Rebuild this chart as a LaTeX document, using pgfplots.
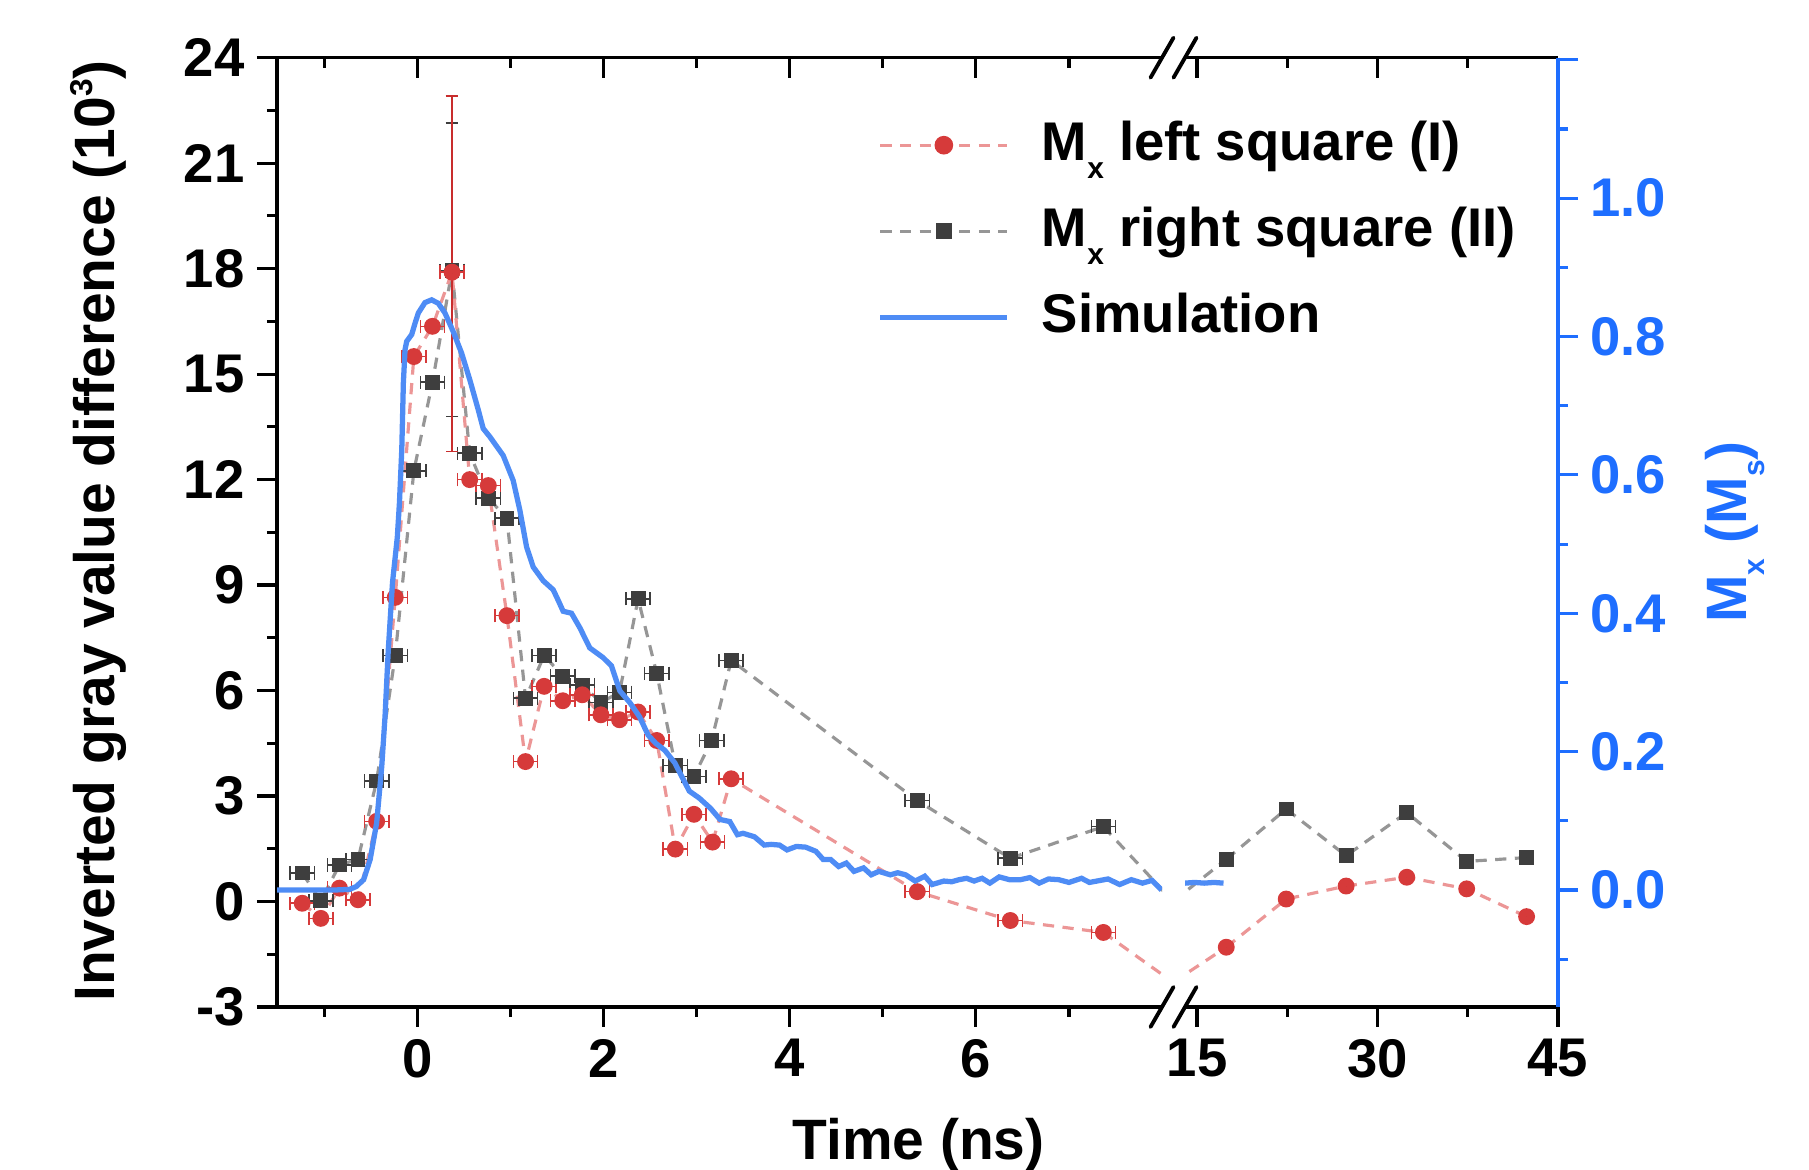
\documentclass[border=0pt]{standalone}
\usepackage{fontspec}
\setmainfont{Liberation Sans}
\usepackage{pgfplots}
\usepackage{pgfplotstable}
\usetikzlibrary{calc}
\pgfplotsset{compat=1.18}

\definecolor{mred}{RGB}{214,58,58}
\definecolor{mredline}{RGB}{236,150,150}
\definecolor{mredbar}{RGB}{200,45,45}
\definecolor{mgray}{RGB}{62,62,62}
\definecolor{mgrayline}{RGB}{150,150,150}
\definecolor{simblue}{RGB}{78,140,245}
\definecolor{axblue}{RGB}{30,110,255}

\newcommand{\tickfont}{\fontsize{15.5}{18}\selectfont\bfseries}
\newcommand{\labfont}{\fontsize{16.2}{19}\selectfont\bfseries}
\newcommand{\sub}[1]{\raisebox{-0.18cm}{\fontsize{8.5}{9}\selectfont #1}}

% left segment, inverted gray value (10^3), x error in ns
\pgfplotstableread{
t v ex
-1.24 -0.05 0.13
-1.04 -0.48 0.13
-0.84 0.38 0.13
-0.64 0.05 0.13
-0.44 2.28 0.13
-0.24 8.65 0.13
-0.04 15.50 0.13
0.16 16.36 0.13
0.37 17.90 0.13
0.56 12.00 0.13
0.76 11.83 0.13
0.96 8.13 0.13
1.16 3.98 0.13
1.36 6.12 0.13
1.56 5.71 0.13
1.77 5.88 0.13
1.97 5.31 0.13
2.17 5.17 0.13
2.37 5.39 0.13
2.57 4.58 0.13
2.77 1.49 0.13
2.97 2.48 0.13
3.17 1.69 0.13
3.37 3.49 0.13
5.37 0.28 0.13
6.37 -0.54 0.13
7.37 -0.88 0.13
}\redleft

\pgfplotstableread{
t v ex
-1.24 0.81 0.13
-1.04 0.02 0.13
-0.84 1.04 0.13
-0.64 1.20 0.13
-0.44 3.43 0.13
-0.24 7.00 0.13
-0.04 12.25 0.13
0.16 14.77 0.13
0.37 17.95 0.13
0.56 12.75 0.13
0.76 11.47 0.13
0.96 10.90 0.13
1.16 5.78 0.13
1.36 7.00 0.13
1.56 6.41 0.13
1.77 6.16 0.13
1.97 5.66 0.13
2.17 5.95 0.13
2.37 8.61 0.13
2.57 6.49 0.13
2.77 3.87 0.13
2.97 3.56 0.13
3.16 4.58 0.13
3.37 6.86 0.13
5.37 2.87 0.13
6.37 1.23 0.13
7.37 2.13 0.13
}\grayleft

% right segment
\pgfplotstableread{
t v ex ey
17.43 -1.30 0.4 0.14
22.41 0.07 0.4 0.14
27.39 0.44 0.4 0.14
32.43 0.69 0.4 0.14
37.41 0.36 0.4 0.14
42.39 -0.43 0.4 0.14
}\redright

\pgfplotstableread{
t v ex ey
17.43 1.20 0.4 0.14
22.41 2.63 0.4 0.14
27.39 1.30 0.4 0.14
32.43 2.53 0.4 0.14
37.41 1.14 0.4 0.14
42.39 1.25 0.4 0.14
}\grayright

% simulation, M_x in M_s
\pgfplotstableread{
t m
-1.511 0.000
-0.90 0.000
-0.73 0.001
-0.66 0.005
-0.58 0.015
-0.51 0.044
-0.44 0.097
-0.385 0.179
-0.35 0.251
-0.315 0.347
-0.27 0.444
-0.218 0.510
-0.195 0.560
-0.17 0.637
-0.153 0.733
-0.135 0.781
-0.117 0.793
-0.063 0.803
-0.028 0.819
0.008 0.834
0.079 0.849
0.151 0.853
0.222 0.848
0.294 0.834
0.383 0.807
0.473 0.776
0.562 0.737
0.652 0.694
0.705 0.667
0.777 0.655
0.920 0.628
1.027 0.592
1.099 0.549
1.171 0.496
1.242 0.467
1.350 0.447
1.457 0.434
1.510 0.419
1.564 0.403
1.654 0.400
1.744 0.379
1.850 0.350
1.993 0.336
2.083 0.324
2.173 0.288
2.280 0.271
2.387 0.250
2.477 0.224
2.560 0.212
2.656 0.202
2.763 0.184
2.920 0.143
3.026 0.133
3.149 0.118
3.250 0.102
3.355 0.099
3.437 0.080
3.498 0.082
3.620 0.077
3.725 0.065
3.800 0.066
3.889 0.065
3.970 0.058
4.070 0.063
4.170 0.062
4.280 0.056
4.360 0.044
4.440 0.044
4.525 0.034
4.607 0.039
4.690 0.027
4.793 0.032
4.875 0.022
4.957 0.027
5.080 0.022
5.160 0.025
5.245 0.022
5.347 0.013
5.450 0.020
5.530 0.008
5.655 0.013
5.740 0.012
5.820 0.015
5.900 0.017
5.980 0.013
6.066 0.017
6.150 0.010
6.250 0.019
6.360 0.015
6.480 0.015
6.580 0.018
6.680 0.010
6.780 0.016
6.890 0.015
7.000 0.011
7.135 0.017
7.220 0.011
7.300 0.013
7.420 0.016
7.545 0.008
7.670 0.015
7.790 0.010
7.893 0.014
7.996 0.000
}\simleft

\pgfplotstableread{
t m
14.0 0.010
14.8 0.011
15.6 0.010
16.4 0.011
17.2 0.010
}\simright

\pgfplotsset{
  brk/.style={scale only axis, anchor=south west, height=9.493cm,
    tick label style={font=\tickfont},
    major tick length=0.2cm, minor tick length=0.1cm,
    tick style={line width=0.9pt, black},
    axis line style={line width=1pt}},
  dash/.style={line width=0.9pt, dash pattern=on 3.2pt off 2.4pt},
  dline/.style={dash, no marks},
  redmk/.style={only marks, mark=*, mark size=2.2pt, mark options={solid, fill=mred, draw=mred}},
  graymk/.style={only marks, mark=square*, mark size=1.9pt, mark options={solid, fill=mgray, draw=mgray}},
  barsonly/.style={only marks, mark=*, mark size=0pt, mark options={draw=none, fill=none}},
  sim/.style={simblue, line width=1.5pt, no marks},
}

\begin{document}
\begin{tikzpicture}
\useasboundingbox (0,0) rectangle (18.09,11.70);

% left segment: data
\begin{axis}[brk, name=L, at={(2.77cm,1.63cm)}, width=8.85cm,
  xmin=-1.511, xmax=8.0, ymin=-3, ymax=24,
  axis x line*=bottom, axis y line*=left, tick align=outside,
  xtick={0,2,4,6}, xticklabels={0,2,4,6}, minor xtick={-1,1,3,5,7},
  ytick={-3,0,3,6,9,12,15,18,21,24}, yticklabels={-3,0,3,6,9,12,15,18,21,24},
  minor ytick={-1.5,1.5,4.5,7.5,10.5,13.5,16.5,19.5,22.5}]
\addplot[dline, mgrayline] table[x=t, y=v] {\grayleft};
\addplot[dline, mgrayline] coordinates {(7.37,2.13) (8.12,0.0)};
\addplot[dline, mredline] table[x=t, y=v] {\redleft};
\addplot[dline, mredline] coordinates {(7.37,-0.88) (8.12,-2.3)};
\addplot[graymk, error bars/.cd, x dir=both, x explicit,
  error bar style={line width=0.45pt, mgray},
  error mark options={rotate=90, mark size=1.9pt, line width=0.45pt, mgray}]
  table[x=t, y=v, x error=ex] {\grayleft};
\addplot[redmk, error bars/.cd, x dir=both, x explicit,
  error bar style={line width=0.45pt, mred},
  error mark options={rotate=90, mark size=1.9pt, line width=0.45pt, mred}]
  table[x=t, y=v, x error=ex] {\redleft};
\addplot[barsonly, error bars/.cd, y dir=both, y explicit,
  error bar style={line width=0.45pt, mgray},
  error mark options={rotate=90, mark size=1.8pt, line width=0.45pt, mgray}]
  coordinates {(0.37,17.97) +- (0,4.17)};
\addplot[barsonly, error bars/.cd, y dir=both, y explicit,
  error bar style={line width=0.5pt, mredbar},
  error mark options={rotate=90, mark size=1.8pt, line width=0.5pt, mredbar}]
  coordinates {(0.37,17.85) +- (0,5.05)};
\end{axis}

% left segment: simulation and top axis
\begin{axis}[brk, name=LT, at={(2.77cm,1.63cm)}, width=8.85cm,
  xmin=-1.511, xmax=8.0, ymin=-0.169, ymax=1.203,
  axis x line*=top, hide y axis, tick align=inside,
  xtick={0,2,4,6}, xticklabels={}, minor xtick={-1,1,3,5,7}]
\addplot[sim] table[x=t, y=m] {\simleft};
\end{axis}

% right segment: data
\begin{axis}[brk, name=R, at={(11.85cm,1.63cm)}, width=3.73cm,
  xmin=14, xmax=45, ymin=-3, ymax=24,
  axis x line*=bottom, hide y axis, tick align=outside,
  xtick={15,30,45}, xticklabels={15,30,45}, minor xtick={22.5,37.5}]
\addplot[dline, mgrayline] table[x=t, y=v] {\grayright};
\addplot[dline, mgrayline] coordinates {(13.0,0.0) (17.43,1.20)};
\addplot[dline, mredline] table[x=t, y=v] {\redright};
\addplot[dline, mredline] coordinates {(13.0,-2.3) (17.43,-1.30)};
\addplot[graymk] table[x=t, y=v] {\grayright};
\addplot[redmk] table[x=t, y=v] {\redright};
\addplot[barsonly, error bars/.cd, x dir=both, x explicit, y dir=both, y explicit,
  error bar style={line width=0.4pt, black!85},
  error mark options={rotate=90, mark size=1.2pt, line width=0.4pt, black!85}]
  table[x=t, y=v, x error=ex, y error=ey] {\grayright};
\addplot[barsonly, error bars/.cd, x dir=both, x explicit, y dir=both, y explicit,
  error bar style={line width=0.4pt, mredbar},
  error mark options={rotate=90, mark size=1.2pt, line width=0.4pt, mredbar}]
  table[x=t, y=v, x error=ex, y error=ey] {\redright};
\end{axis}

% right segment: top axis
\begin{axis}[brk, name=RT, at={(11.85cm,1.63cm)}, width=3.73cm,
  xmin=14, xmax=45, ymin=-0.169, ymax=1.203,
  axis x line*=top, hide y axis, tick align=inside,
  xtick={15,30,45}, xticklabels={}, minor xtick={22.5,37.5}]
\end{axis}

% right segment: simulation, blue axis, legend
\begin{axis}[brk, name=RY, at={(11.85cm,1.63cm)}, width=3.73cm,
  xmin=14, xmax=45, ymin=-0.169, ymax=1.203,
  axis y line*=right, hide x axis, tick align=outside,
  ytick={0,0.2,0.4,0.6,0.8,1.0,1.2}, yticklabels={0.0,0.2,0.4,0.6,0.8,1.0,{}},
  minor ytick={-0.1,0.1,0.3,0.5,0.7,0.9,1.1},
  y axis line style={axblue, line width=1pt},
  ytick style={axblue, line width=0.9pt},
  yticklabel style={axblue},
  legend cell align=left,
  legend style={draw=none, fill=none, inner sep=0pt, at={(-0.8257,0.937)}, anchor=north west,
    nodes={inner sep=0pt, text height=0.42cm, text depth=0.12cm, font=\tickfont},
    row sep=0.32cm},
  legend image code/.code={
    \draw[mark repeat=2, mark phase=2, #1] plot coordinates {(0cm,0cm) (0.635cm,0cm) (1.27cm,0cm)};
    \path (1.59cm,0cm);}]
\addlegendimage{dash, mredline, mark=*, mark size=2.2pt, mark options={solid, fill=mred, draw=mred}}
\addlegendentry{M\sub{x} left square (I)}
\addlegendimage{dash, mgrayline, mark=square*, mark size=1.9pt, mark options={solid, fill=mgray, draw=mgray}}
\addlegendentry{M\sub{x} right square (II)}
\addplot[sim] table[x=t, y=m] {\simright};
\addlegendentry{Simulation}
\end{axis}

% axis break marks
\foreach \p in {L.south east, R.south west, L.north east, R.north west}
  \draw[line width=1.1pt, line cap=round] ($(\p)+(-0.115,-0.2)$) -- ($(\p)+(0.115,0.2)$);

% labels
\node[rotate=90, anchor=base, font=\labfont] at (1.15,6.39)
  {Inverted gray value difference (10\raisebox{0.22cm}{\fontsize{9}{9}\selectfont 3})};
\node[anchor=base, font=\labfont] at (9.185,0.10) {Time (ns)};
\node[rotate=90, anchor=base, font=\labfont, text=axblue] at (17.46,6.38) {M\sub{x} (M\sub{s})};
\end{tikzpicture}
\end{document}
